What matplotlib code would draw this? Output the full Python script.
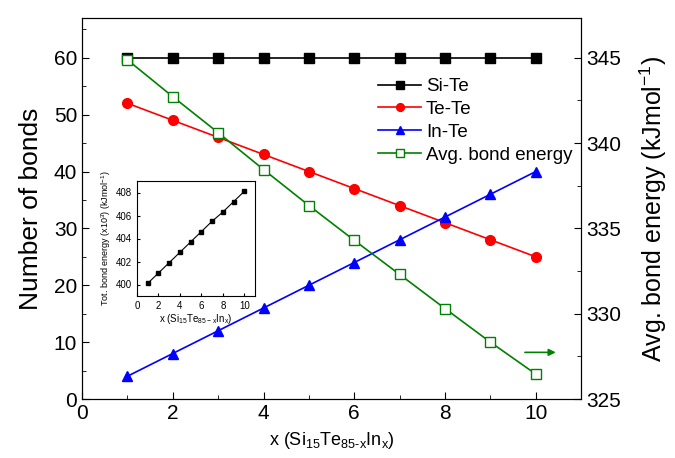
import numpy as np
import matplotlib
matplotlib.use('Agg')
import matplotlib.pyplot as plt
from matplotlib.ticker import MultipleLocator

plt.rcParams['font.family'] = ['Liberation Sans', 'DejaVu Sans']
plt.rcParams['mathtext.fontset'] = 'custom'
plt.rcParams['mathtext.rm'] = 'Liberation Sans'

x = [1, 2, 3, 4, 5, 6, 7, 8, 9, 10]
si_te = [60, 60, 60, 60, 60, 60, 60, 60, 60, 60]
te_te = [52, 49, 46, 43, 40, 37, 34, 31, 28, 25]
in_te = [4, 8, 12, 16, 20, 24, 28, 32, 36, 40]
avg_energy = [344.88, 342.72, 340.61, 338.45, 336.34, 334.3, 332.3, 330.3, 328.33, 326.46]
tot_energy = [400.1, 401.0, 401.9, 402.8, 403.7, 404.6, 405.5, 406.3, 407.2, 408.1]

fig = plt.figure(figsize=(6.75, 4.58), dpi=100)
ax = fig.add_axes([0.1215, 0.1288, 0.7395, 0.832])
ax2 = ax.twinx()

l1, = ax.plot(x, si_te, 's-', color='black', ms=7, lw=1.2, label='Si-Te')
l2, = ax.plot(x, te_te, 'o-', color='red', ms=7, lw=1.2, label='Te-Te')
l3, = ax.plot(x, in_te, '^-', color='blue', ms=7, lw=1.2, label='In-Te')
l4, = ax2.plot(x, avg_energy, 's-', color='green', mfc='white', ms=7, lw=1.2,
               label='Avg. bond energy')

ax.set_xlim(0, 11)
ax.set_ylim(0, 67)
ax2.set_ylim(325, 325 + 67 / 3)
ax.xaxis.set_major_locator(MultipleLocator(2))
ax.xaxis.set_minor_locator(MultipleLocator(1))
ax.yaxis.set_major_locator(MultipleLocator(10))
ax.yaxis.set_minor_locator(MultipleLocator(5))
ax2.yaxis.set_major_locator(MultipleLocator(5))
ax2.yaxis.set_minor_locator(MultipleLocator(2.5))
for a in (ax, ax2):
    a.tick_params(which='both', direction='in', labelsize=15)
    a.tick_params(which='major', length=5)
    a.tick_params(which='minor', length=3)

ax.set_ylabel('Number of bonds', fontsize=19, labelpad=8)
ax2.set_ylabel('Avg. bond energy (kJmol$^{-1}$)', fontsize=18, labelpad=12)
ax.set_xlabel('x (Si$_{15}$Te$_{\\mathrm{85\u2010x}}$In$_{\\mathrm{x}}$)', fontsize=13, labelpad=5)

ax.legend(handles=[l1, l2, l3, l4], loc='upper left', bbox_to_anchor=(0.593, 0.842),
          frameon=False, fontsize=13.5, handlelength=2.3, handletextpad=0.25,
          labelspacing=0.3, numpoints=1, markerscale=0.8,
          borderpad=0, borderaxespad=0)

ax.annotate('', xy=(10.5, 8.2), xytext=(9.7, 8.2),
            arrowprops=dict(arrowstyle='-|>', color='green', lw=1.2))

# inset
axi = fig.add_axes([137 / 675, 1 - 296 / 458, 118 / 675, 115 / 458])
axi.plot(x, tot_energy, 's-', color='black', ms=3, lw=0.8)
axi.set_xlim(0, 11)
axi.set_ylim(399, 409)
axi.xaxis.set_major_locator(MultipleLocator(2))
axi.yaxis.set_major_locator(MultipleLocator(2))
axi.tick_params(direction='in', labelsize=7, length=2.5)
axi.set_ylabel('Tot. bond energy (x10$^3$) (kJmol$^{-1}$)', fontsize=6.5, labelpad=2)
axi.set_xlabel('x (Si$_{15}$Te$_{\\mathrm{85-x}}$In$_{\\mathrm{x}}$)', fontsize=7, labelpad=1)

fig.savefig('out.png', dpi=100)
